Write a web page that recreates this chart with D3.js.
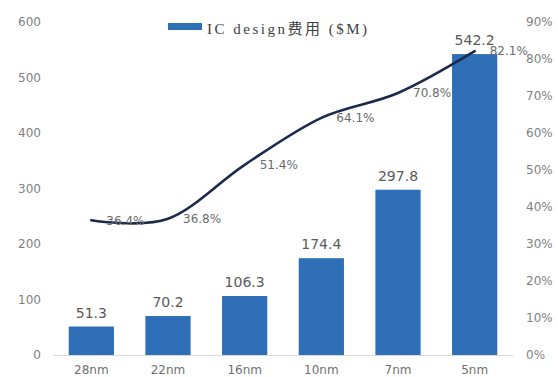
<!DOCTYPE html>
<html>
<head>
<meta charset="utf-8">
<script src="https://cdn.jsdelivr.net/npm/d3@7/dist/d3.min.js"></script>
<style>
  html, body { margin: 0; padding: 0; background: #ffffff; }
  svg { display: block; }
</style>
</head>
<body>
<svg id="chart" width="558" height="377"></svg>
<script>
// Process nodes, design cost ($M) and its share (line, right axis)
const nodes = ["28nm", "22nm", "16nm", "10nm", "7nm", "5nm"];
const designCost = [51.3, 70.2, 106.3, 174.4, 297.8, 542.2];
const costShare = [0.364, 0.368, 0.514, 0.641, 0.708, 0.821];
const leftTicks = [0, 100, 200, 300, 400, 500, 600];
const rightTicks = [0, 0.1, 0.2, 0.3, 0.4, 0.5, 0.6, 0.7, 0.8, 0.9];
const legendLabel = "IC design费用 ($M)";

const svg = d3.select("#chart");
const barColor = "#2e6fb7";
const lineColor = "#1c2b4c";
const labelFont = "'DejaVu Sans', sans-serif";

const x = d3.scaleBand().domain(nodes).range([53, 513])
  .paddingInner(0.41).paddingOuter(0.205);
const yL = d3.scaleLinear().domain([0, 600]).range([355, 22]);
const yR = d3.scaleLinear().domain([0, 0.9]).range([355, 22]);

// Left axis
const axL = svg.append("g").attr("transform", "translate(41,0)")
  .call(d3.axisLeft(yL).tickValues(leftTicks).tickSize(0).tickPadding(0));
axL.select(".domain").remove();
axL.selectAll("text").attr("font-family", labelFont).attr("font-size", 12)
  .attr("fill", "#808080");

// Right axis
const axR = svg.append("g").attr("transform", "translate(526,0)")
  .call(d3.axisRight(yR).tickValues(rightTicks).tickSize(0).tickPadding(0)
    .tickFormat(d3.format(".0%")));
axR.select(".domain").remove();
axR.selectAll("text").attr("font-family", labelFont).attr("font-size", 12)
  .attr("fill", "#808080");

// Bottom axis
const axB = svg.append("g").attr("transform", "translate(0,355)")
  .call(d3.axisBottom(x).tickSize(0).tickPadding(10));
axB.select(".domain").attr("stroke", "#d9d9d9");
axB.selectAll("text").attr("font-family", labelFont).attr("font-size", 12)
  .attr("fill", "#6f6f6f");

// Bars
svg.append("g").selectAll("rect").data(nodes).join("rect")
  .attr("x", d => x(d))
  .attr("width", x.bandwidth())
  .attr("y", (d, i) => yL(designCost[i]))
  .attr("height", (d, i) => yL(0) - yL(designCost[i]))
  .attr("fill", barColor);

// Bar value labels
svg.append("g").selectAll("text").data(nodes).join("text")
  .attr("x", d => x(d) + x.bandwidth() / 2)
  .attr("y", (d, i) => yL(designCost[i]) - 9)
  .attr("text-anchor", "middle")
  .attr("font-family", labelFont).attr("font-size", 14)
  .attr("fill", "#595959")
  .text((d, i) => designCost[i].toFixed(1));

// Smoothed share line
const line = d3.line()
  .x((d, i) => x(nodes[i]) + x.bandwidth() / 2)
  .y(d => yR(d))
  .curve(d3.curveCardinal.tension(0));
svg.append("path").datum(costShare)
  .attr("d", line)
  .attr("fill", "none")
  .attr("stroke", lineColor)
  .attr("stroke-width", 2.6)
  .attr("stroke-linecap", "round");

// Share labels
svg.append("g").selectAll("text").data(costShare).join("text")
  .attr("x", (d, i) => x(nodes[i]) + x.bandwidth() / 2 + 15)
  .attr("y", d => yR(d))
  .attr("dy", "0.35em")
  .attr("font-family", labelFont).attr("font-size", 12)
  .attr("fill", "#6a6a6a")
  .text(d => (d * 100).toFixed(1) + "%");

// Legend
const lg = svg.append("g");
lg.append("rect").attr("x", 168).attr("y", 23).attr("width", 34).attr("height", 7)
  .attr("fill", barColor);
lg.append("text").attr("x", 207).attr("y", 31)
  .attr("dominant-baseline", "middle")
  .attr("font-family", "'Liberation Serif', 'Noto Sans CJK SC', serif")
  .attr("font-size", 15)
  .attr("letter-spacing", 2.5)
  .attr("fill", "#404040")
  .text(legendLabel);
</script>
</body>
</html>
